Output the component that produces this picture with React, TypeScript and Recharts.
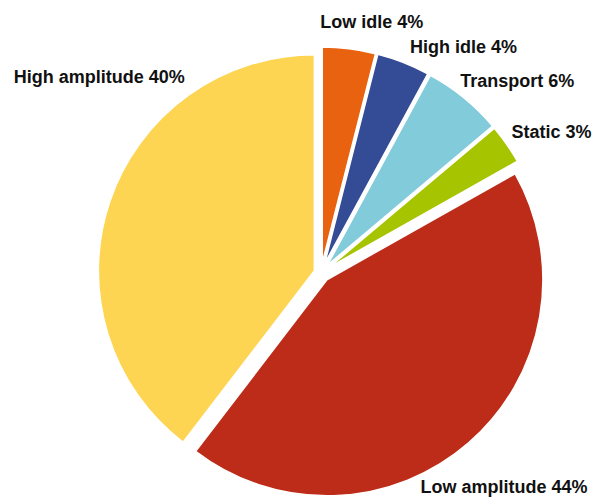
import React from 'react';
import { PieChart, Pie, Cell } from 'recharts';

const categories = ['Low idle', 'High idle', 'Transport', 'Static', 'Low amplitude', 'High amplitude'];
const shares = [4, 4, 6, 3, 44, 40];
const colors = ['#E8620F', '#344B96', '#82CBDB', '#A7C400', '#BD2C18', '#FDD553'];
const explode = [10, 10, 10, 10, 9, 7];
const labelNudgeX = [-31, 0, -15, -10, -60, -79];
const labelNudgeY = [-3, 7, 3, 4, 37, -113];

const W = 599;
const H = 497;
const CX = 321;
const CY = 273;
const R = 216;
const LABEL_R = 234;
const RAD = Math.PI / 180;

const rows = categories.map((name, i) => ({ name, value: shares[i] }));
const total = shares.reduce((a, b) => a + b, 0);
const mids: number[] = [];
{
  let acc = 0;
  shares.forEach((v) => {
    mids.push(90 - (360 * (acc + v / 2)) / total);
    acc += v;
  });
}

export default function App() {
  return (
    <div style={{ position: 'absolute', left: 0, top: 0, width: W, height: H, background: '#fff' }}>
      <PieChart width={W} height={H} margin={{ top: 0, right: 0, bottom: 0, left: 0 }}>
        {rows.map((_, i) => {
          const pcx = CX + explode[i] * Math.cos(mids[i] * RAD);
          const pcy = CY - explode[i] * Math.sin(mids[i] * RAD);
          const renderLabel = (p: any) => {
            if (p.index !== i) return null;
            const ax = pcx + LABEL_R * Math.cos(mids[i] * RAD);
            const ay = pcy - LABEL_R * Math.sin(mids[i] * RAD);
            return (
              <text
                x={ax + labelNudgeX[i]}
                y={ay + labelNudgeY[i]}
                textAnchor="start"
                fill="#111"
                fontFamily="'Liberation Sans', Arial, sans-serif"
                fontWeight="bold"
                fontSize={18}
              >
                {`${categories[i]} ${shares[i]}%`}
              </text>
            );
          };
          return (
            <Pie
              key={i}
              data={rows}
              dataKey="value"
              nameKey="name"
              cx={pcx}
              cy={pcy}
              innerRadius={0}
              outerRadius={R}
              startAngle={90}
              endAngle={-270}
              isAnimationActive={false}
              labelLine={false}
              label={renderLabel}
            >
              {rows.map((r, j) => (
                <Cell
                  key={r.name}
                  fill={j === i ? colors[j] : 'none'}
                  stroke={j === i ? '#fff' : 'none'}
                  strokeWidth={1.5}
                />
              ))}
            </Pie>
          );
        })}
      </PieChart>
    </div>
  );
}
